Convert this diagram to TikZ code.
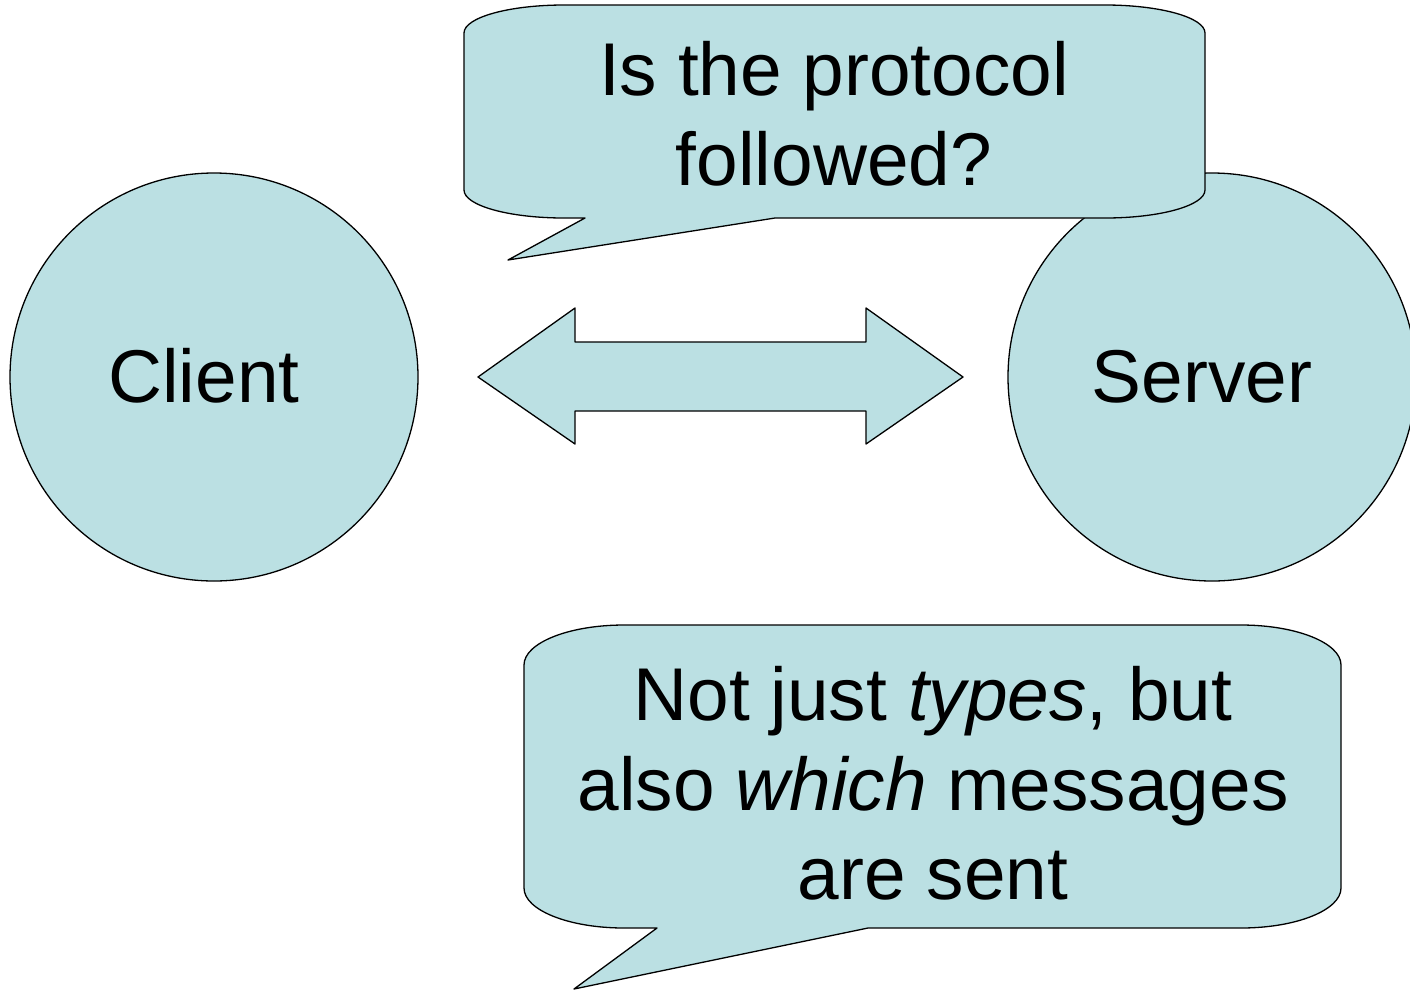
\documentclass[tikz,border=0pt]{standalone}
\usepackage{fontspec}
\setmainfont{Liberation Sans}
\definecolor{bubblefill}{RGB}{187,224,227}
\begin{document}
\begin{tikzpicture}[x=1pt,y=-1pt,
  shapebox/.style={draw=black,fill=bubblefill,line width=1.3pt,line join=round},
  lbl/.style={inner sep=0pt,align=center,font=\fontsize{74.8}{89.5}\selectfont}]
\useasboundingbox (0,0) rectangle (1410,989);
% circles
\node[shapebox,circle,minimum size=408pt,inner sep=0pt] (client) at (214,377) {};
\node[shapebox,circle,minimum size=408pt,inner sep=0pt] (server) at (1212,377) {};
\node[lbl,anchor=base] (clientlbl) at (204,402) {Client};
\node[lbl,anchor=base] (serverlbl) at (1202,402) {Server};
% double block arrow
\draw[shapebox] (478,377) -- (575,308) -- (575,342) -- (866,342) -- (866,308)
  -- (963,377) -- (866,444) -- (866,411) -- (575,411) -- (575,444) -- cycle;
% top speech bubble
\draw[shapebox] (464,33) .. controls (464,17.5) and (508.8,5) .. (564,5) -- (1105,5)
  .. controls (1160.2,5) and (1205,17.5) .. (1205,33) -- (1205,190)
  .. controls (1205,205.5) and (1160.2,218) .. (1105,218) -- (775,218) -- (508,260)
  -- (585,218) -- (564,218) .. controls (508.8,218) and (464,205.5) .. (464,190) -- cycle;
\node[lbl,anchor=north] (q1) at (834,41.5) {Is the protocol\\followed?};
% bottom speech bubble
\draw[shapebox] (524,665) .. controls (524,642.9) and (568.8,625) .. (624,625) -- (1241,625)
  .. controls (1296.2,625) and (1341,642.9) .. (1341,665) -- (1341,888)
  .. controls (1341,910.1) and (1296.2,928) .. (1241,928) -- (868,928) -- (574,989)
  -- (657,928) -- (624,928) .. controls (568.8,928) and (524,910.1) .. (524,888) -- cycle;
\node[lbl,anchor=north] (q2) at (933,666.5) {Not just \textit{types}, but\\also \textit{which} messages\\are sent};
\end{tikzpicture}
\end{document}
